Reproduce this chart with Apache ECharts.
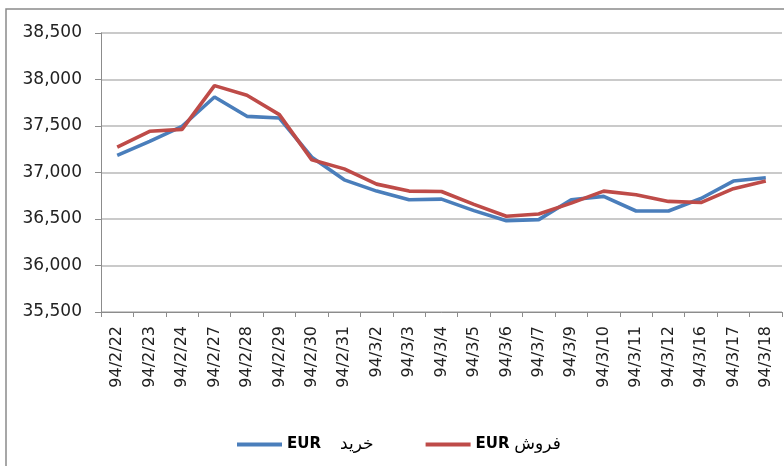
<!DOCTYPE html>
<html>
<head>
<meta charset="utf-8">
<script src="https://cdn.jsdelivr.net/npm/echarts@6/dist/echarts.min.js"></script>
<style>
html,body{margin:0;padding:0;background:#fff;}
#c{width:784px;height:466px;}
</style>
</head>
<body>
<div id="c"></div>
<script>
var categories = ['94/2/22','94/2/23','94/2/24','94/2/27','94/2/28','94/2/29','94/2/30','94/2/31','94/3/2','94/3/3','94/3/4','94/3/5','94/3/6','94/3/7','94/3/9','94/3/10','94/3/11','94/3/12','94/3/16','94/3/17','94/3/18'];
var buyName = 'EUR   خرید';
var sellName = 'EUR فروش';
var buyValues = [37185, 37335, 37497, 37812, 37604, 37586, 37164, 36921, 36800, 36707, 36714, 36590, 36482, 36493, 36707, 36743, 36586, 36586, 36720, 36908, 36943];
var sellValues = [37274, 37443, 37464, 37934, 37830, 37622, 37136, 37039, 36875, 36800, 36796, 36657, 36529, 36554, 36671, 36800, 36761, 36689, 36677, 36826, 36908];
var yTicks = {min: 35500, max: 38500, step: 500};

var chart = echarts.init(document.getElementById('c'), null, {renderer: 'canvas'});
var labelFont = 'DejaVu Sans';
chart.setOption({
  animation: false,
  backgroundColor: '#ffffff',
  graphic: [{
    type: 'rect',
    shape: {x: 6, y: 9, width: 900, height: 600},
    style: {fill: 'none', stroke: '#8a8a8a', lineWidth: 1.5},
    silent: true
  }],
  grid: {left: 101, right: 2, top: 33, bottom: 154, containLabel: false},
  legend: {
    left: 237,
    top: 436,
    padding: 0,
    itemWidth: 45,
    itemHeight: 4,
    itemGap: 52,
    icon: 'rect',
    data: [buyName, sellName],
    formatter: function (n) {
      var parts = n.split(/\s+/);
      return '{b|EUR}' + (n === buyName ? '{s|    }' : '{s| }') + '{n|' + parts[parts.length - 1] + '}';
    },
    textStyle: {
      color: '#000',
      rich: {
        b: {fontFamily: labelFont, fontWeight: 'bold', fontSize: 15, color: '#000'},
        s: {fontFamily: labelFont, fontSize: 15},
        n: {fontFamily: labelFont, fontSize: 17, color: '#000'}
      }
    }
  },
  xAxis: {
    type: 'category',
    data: categories,
    boundaryGap: true,
    axisLine: {lineStyle: {color: '#8c8c8c', width: 1}},
    axisTick: {show: true, length: 5, lineStyle: {color: '#8c8c8c'}},
    axisLabel: {rotate: 90, margin: 14, fontFamily: labelFont, fontSize: 16, color: '#222', interval: 0},
    splitLine: {show: false}
  },
  yAxis: {
    type: 'value',
    min: yTicks.min,
    max: yTicks.max,
    interval: yTicks.step,
    axisLine: {show: true, lineStyle: {color: '#8c8c8c', width: 1}},
    axisTick: {show: true, length: 6, lineStyle: {color: '#8c8c8c'}},
    axisLabel: {
      margin: 19, fontFamily: labelFont, fontSize: 17, color: '#222',
      formatter: function (v) { return v.toLocaleString('en-US'); }
    },
    splitLine: {lineStyle: {color: '#b8b8b8', width: 1.5}}
  },
  series: [
    {
      name: buyName, type: 'line', data: buyValues, showSymbol: false, symbol: 'none',
      lineStyle: {color: '#4A7EBB', width: 3.6}, itemStyle: {color: '#4A7EBB'}, z: 2
    },
    {
      name: sellName, type: 'line', data: sellValues, showSymbol: false, symbol: 'none',
      lineStyle: {color: '#BE4B48', width: 3.6}, itemStyle: {color: '#BE4B48'}, z: 3
    }
  ]
});
</script>
</body>
</html>
